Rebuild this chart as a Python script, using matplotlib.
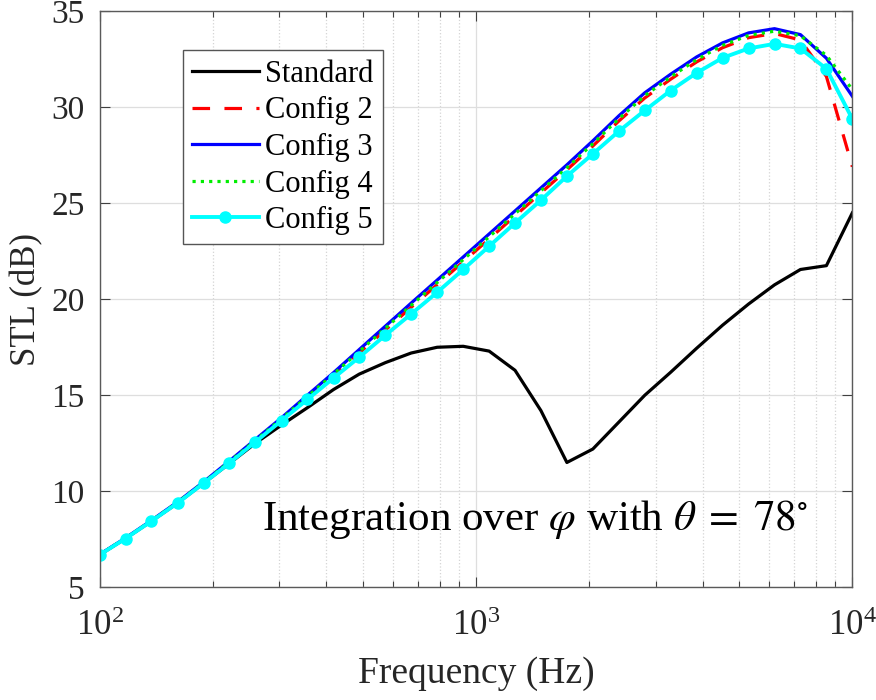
import numpy as np
import matplotlib
matplotlib.use("Agg")
import matplotlib.pyplot as plt
from matplotlib.ticker import LogLocator, NullFormatter

matplotlib.rcParams.update({
    "font.family"      : ["Liberation Serif", "DejaVu Serif"],
    "mathtext.fontset" : "stix",
    "font.size"        : 22,
})

freq = [100, 117, 137, 161, 189, 221, 259, 304, 356, 418,
        489, 574, 672, 788, 924, 1083, 1269, 1487, 1743, 2043,
        2395, 2807, 3290, 3857, 4520, 5298, 6210, 7279, 8532, 10000]

stl_standard = [6.70, 7.54, 8.44, 9.39, 10.43, 11.45, 12.50, 13.45, 14.35, 15.30,
                16.10, 16.70, 17.20, 17.50, 17.55, 17.30, 16.30, 14.20, 11.50, 12.20,
                13.60, 15.00, 16.20, 17.45, 18.65, 19.75, 20.75, 21.55, 21.75, 24.50]
stl_config2 = [6.71, 7.55, 8.45, 9.42, 10.45, 11.52, 12.62, 13.73, 14.88, 16.04,
               17.20, 18.40, 19.58, 20.76, 21.95, 23.14, 24.34, 25.54, 26.74, 27.98,
               29.28, 30.48, 31.46, 32.36, 33.10, 33.62, 33.84, 33.50, 31.60, 26.90]
stl_config3 = [6.72, 7.57, 8.48, 9.45, 10.50, 11.58, 12.70, 13.83, 15.00, 16.18,
               17.38, 18.60, 19.80, 21.00, 22.20, 23.40, 24.60, 25.80, 27.00, 28.25,
               29.55, 30.75, 31.72, 32.62, 33.35, 33.87, 34.09, 33.78, 32.55, 30.57]
stl_config4 = [6.71, 7.56, 8.46, 9.43, 10.47, 11.54, 12.65, 13.77, 14.93, 16.10,
               17.28, 18.49, 19.68, 20.87, 22.06, 23.25, 24.45, 25.65, 26.85, 28.10,
               29.40, 30.60, 31.58, 32.48, 33.22, 33.74, 33.96, 33.72, 32.70, 30.92]
stl_config5 = [6.70, 7.54, 8.44, 9.39, 10.43, 11.47, 12.57, 13.68, 14.78, 15.90,
               16.98, 18.13, 19.23, 20.36, 21.55, 22.76, 23.97, 25.16, 26.41, 27.57,
               28.75, 29.83, 30.87, 31.79, 32.57, 33.06, 33.30, 33.06, 32.00, 29.39]

fig = plt.figure(figsize=(8.76, 7.0), dpi=100)
ax = fig.add_axes([0.114, 0.161, 0.859, 0.823])

lw = 2.3
ax.plot(freq, stl_standard, color="black", lw=lw, label="Standard")
ax.plot(freq, stl_config2, color="red", lw=lw, ls=(0, (5.5, 4.5)), label="Config 2")
ax.plot(freq, stl_config3, color="blue", lw=lw, label="Config 3")
ax.plot(freq, stl_config4, color="#00ee00", lw=lw, ls=(0, (1, 1.6)), label="Config 4")
ax.plot(freq, stl_config5, color="cyan", lw=2.8, marker="o", ms=8, label="Config 5")

ax.set_xscale("log")
ax.set_xlim(100, 10000)
ax.set_ylim(5, 35)
ax.set_yticks(range(5, 36, 5))
ax.xaxis.set_minor_locator(LogLocator(base=10, subs=np.arange(2, 10)))
ax.xaxis.set_minor_formatter(NullFormatter())

ax.grid(True, which="major", color="#dedede", lw=0.9, ls="-")
ax.grid(True, which="minor", axis="x", color="#d4d4d4", lw=0.9, ls=":")
ax.set_axisbelow(True)

ax.tick_params(which="both", direction="in", top=True, right=True,
               colors="#404040", labelcolor="#262626", labelsize=24)
ax.tick_params(axis="x", which="major", labelsize=25)
ax.tick_params(which="major", length=7, width=0.8)
ax.tick_params(which="minor", length=4, width=0.8)
ax.tick_params(axis="x", pad=16)
ax.tick_params(axis="y", pad=11)
for sp in ax.spines.values():
    sp.set_color("#5a5a5a")
    sp.set_linewidth(1.0)

ax.set_xlabel("Frequency (Hz)", fontsize=27, color="#262626", labelpad=10)
ax.set_ylabel("STL (dB)", fontsize=25, color="#262626", labelpad=6)

ax.text(0.215, 0.099, r"Integration over $\varphi$ with $\theta\;=\;78^{\circ}$",
        transform=ax.transAxes, fontsize=31, ha="left", va="baseline")

leg = ax.legend(loc="upper left", bbox_to_anchor=(0.110, 0.932), borderaxespad=0,
                fontsize=22, fancybox=False, framealpha=1, edgecolor="#555555",
                handlelength=2.2, handletextpad=0.2, labelspacing=0.25,
                borderpad=0.3)
leg.get_frame().set_linewidth(1.0)

fig.savefig("out.png", dpi=100)
